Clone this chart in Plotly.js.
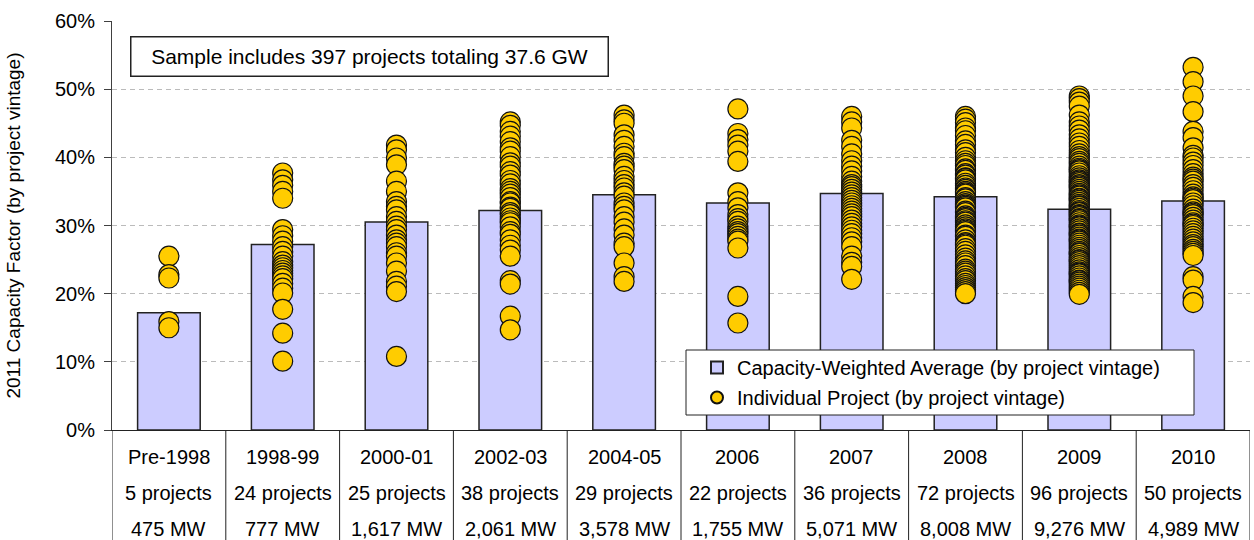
<!DOCTYPE html>
<html>
<head>
<meta charset="utf-8">
<script src="https://cdn.plot.ly/plotly-3.0.1.min.js"></script>
<style>html,body{margin:0;padding:0;background:#fff;}#chart{width:1254px;height:540px;}</style>
</head>
<body>
<div id="chart"></div>
<script>
const categories = ['Pre-1998','1998-99','2000-01','2002-03','2004-05','2006','2007','2008','2009','2010'];
const avgCF = [17.2, 27.2, 30.5, 32.2, 34.5, 33.3, 34.7, 34.2, 32.4, 33.6];
const projectCounts = ['5 projects','24 projects','25 projects','38 projects','29 projects','22 projects','36 projects','72 projects','96 projects','50 projects'];
const capacityLabels = ['475 MW','777 MW','1,617 MW','2,061 MW','3,578 MW','1,755 MW','5,071 MW','8,008 MW','9,276 MW','4,989 MW'];

const ptsPre1998 = [25.5, 22.8, 22.3, 15.9, 15.0];
const pts1998 = [37.7, 36.7, 35.9, 35.0, 34.0, 29.4, 28.5, 27.7, 26.9, 26.2, 25.5, 24.7, 24.2, 23.8, 23.4, 23.0, 22.6, 22.2, 21.5, 20.8, 20.1, 17.7, 14.2, 10.1];
const pts2000 = [41.8, 41.1, 39.9, 38.9, 36.5, 35.0, 33.5, 32.8, 32.3, 31.3, 30.6, 29.9, 29.4, 28.6, 27.9, 27.4, 26.9, 26.0, 25.5, 24.5, 23.3, 21.8, 21.1, 20.3, 10.8];
const pts2002 = [45.2, 44.7, 43.8, 43.1, 42.3, 41.4, 40.9, 40.1, 39.2, 38.7, 37.9, 37.4, 36.6, 36.1, 35.4, 35.0, 34.6, 34.1, 33.5, 33.3, 32.7, 32.5, 31.9, 31.6, 31.1, 30.7, 30.4, 29.8, 29.1, 28.7, 27.9, 27.1, 26.4, 25.5, 21.9, 21.4, 16.7, 14.7];
const pts2004 = [46.2, 45.5, 45.0, 43.3, 42.5, 41.6, 40.6, 40.1, 39.1, 38.7, 38.2, 37.2, 36.6, 36.0, 35.5, 34.8, 34.3, 33.3, 32.8, 32.3, 31.3, 30.5, 29.5, 28.6, 27.4, 26.9, 24.5, 22.5, 21.8];
const pts2006 = [47.1, 43.5, 42.6, 41.8, 40.9, 39.4, 34.8, 33.5, 32.6, 31.6, 31.0, 30.6, 29.9, 29.5, 29.1, 28.8, 28.4, 28.0, 27.7, 26.7, 19.6, 15.7];
const pts2007 = [46.0, 45.2, 44.3, 42.5, 41.6, 40.5, 39.5, 38.7, 38.0, 37.2, 36.5, 36.0, 35.7, 35.3, 34.9, 34.5, 34.1, 33.7, 33.3, 32.9, 32.5, 32.1, 31.7, 31.3, 30.8, 30.3, 29.8, 29.3, 28.8, 28.2, 27.6, 26.9, 25.5, 24.6, 24.0, 22.1];
const pts2008 = [46.0, 45.6, 45.1, 44.3, 43.9, 43.2, 42.4, 41.9, 41.1, 40.7, 40.0, 39.5,
  39.1, 38.8, 38.3, 38.1, 37.6, 37.4, 37.0, 36.9, 36.7, 36.2, 35.9, 35.5, 35.3, 35.0, 34.8, 34.6, 34.1, 33.9, 33.5, 33.2, 33.0,
  32.8, 32.6, 32.1, 31.9, 31.4, 31.2, 31.0, 30.7, 30.5, 30.1, 29.8, 29.5, 29.3, 29.1, 28.6, 28.4, 27.9, 27.5, 27.3, 27.1, 26.6,
  26.2, 25.7, 25.2, 24.8, 24.5, 24.1, 23.6, 23.3, 23.0, 22.6, 22.2, 21.9, 21.5, 21.2, 20.9, 20.6, 20.3, 20.0];
const pts2009 = [49.0, 48.6, 48.1, 47.5, 46.2, 45.2, 44.6, 44.0, 43.3, 42.7, 42.1, 41.6, 41.0, 40.5,
  40.1, 39.8, 39.4, 39.1, 38.7, 38.4, 38.2, 38.0, 37.7, 37.3, 37.0, 36.7, 36.5, 36.3, 36.0, 35.8, 35.6, 35.3, 35.0, 34.7, 34.5,
  34.3, 34.0, 33.9, 33.7, 33.4, 33.1, 32.9, 32.8, 32.5, 32.2, 32.0, 31.9, 31.6, 31.5, 31.3, 31.0, 30.9, 30.7, 30.4, 30.1, 29.9,
  29.8, 29.5, 29.2, 28.9, 28.8, 28.6, 28.3, 28.0, 27.9, 27.7, 27.4, 27.1, 26.8, 26.5, 26.2, 26.0, 25.9, 25.6, 25.3, 25.0, 24.9,
  24.7, 24.4, 24.1, 23.8, 23.5, 23.2, 23.0, 22.9, 22.6, 22.3, 22.0, 21.9, 21.7, 21.4, 21.1, 20.8, 20.5, 20.2, 19.9];
const pts2010 = [53.2, 51.1, 49.0, 46.7, 43.8, 42.9, 41.4,
  40.3, 39.9, 39.3, 38.8, 38.2, 37.6, 37.1, 36.8, 36.5, 36.0, 35.6, 35.1, 34.6, 34.2, 34.0, 33.8, 33.3, 32.9, 32.4, 32.0,
  31.8, 31.6, 31.2, 30.8, 30.4, 30.2, 30.0, 29.6, 29.2, 28.8, 28.4, 28.0, 27.6, 27.2, 26.9, 26.5, 26.2, 25.9, 25.6,
  22.5, 22.0, 19.6, 18.7];
const projectPoints = [ptsPre1998, pts1998, pts2000, pts2002, pts2004, pts2006, pts2007, pts2008, pts2009, pts2010];

const scatterX = [], scatterY = [];
projectPoints.forEach((arr, i) => arr.forEach(v => { scatterX.push(categories[i]); scatterY.push(v); }));

const FONT = 'Liberation Sans, Arial, sans-serif';
const FS = 20;
const M = {l: 112, r: 4, t: 21, b: 110};
const plotH = 540 - M.t - M.b;
const plotW = 1254 - M.l - M.r;
const py2paper = py => (540 - M.b - py) / plotH;
const px2paper = px => (px - M.l) / plotW;

const traces = [
  {
    type: 'bar', x: categories, y: avgCF, width: 0.55,
    name: 'Capacity-Weighted Average (by project vintage)',
    legendgroup: 'a',
    marker: {color: '#CCCCFF', line: {color: '#222222', width: 1.5}},
    hoverinfo: 'y'
  },
  {
    type: 'scatter', mode: 'markers', x: scatterX, y: scatterY,
    name: 'Individual Project (by project vintage)',
    legendgroup: 'b',
    marker: {color: '#FFCC00', size: 20, line: {color: '#111111', width: 1.2}},
    hoverinfo: 'y'
  }
];

const shapes = [];
for (let i = 0; i <= categories.length; i++) {
  shapes.push({type: 'line', xref: 'x', yref: 'paper', x0: i - 0.5, x1: i - 0.5, y0: 0, y1: -0.3,
    line: {color: '#222222', width: 1}});
}
// legend frame
shapes.push({type: 'rect', xref: 'paper', yref: 'paper', layer: 'above',
  x0: px2paper(686), x1: px2paper(1194), y0: py2paper(350), y1: py2paper(415),
  fillcolor: '#ffffff', line: {color: '#222222', width: 1}});

const annotations = [];
categories.forEach((c, i) => {
  [[c, 457], [projectCounts[i], 493.5], [capacityLabels[i], 529]].forEach(([t, py]) => {
    annotations.push({xref: 'x', yref: 'paper', x: i, y: py2paper(py), text: t, showarrow: false,
      xanchor: 'center', yanchor: 'middle', font: {family: FONT, size: FS, color: '#000'}});
  });
});
annotations.push({xref: 'paper', yref: 'paper', x: px2paper(369.5), y: py2paper(57),
  xanchor: 'center', yanchor: 'middle', showarrow: false,
  text: 'Sample includes 397 projects totaling 37.6 GW',
  width: 472, height: 34, borderpad: 2, borderwidth: 1.5, bordercolor: '#222222', bgcolor: '#ffffff',
  font: {family: FONT, size: 21, color: '#000'}});

const layout = {
  width: 1254, height: 540,
  margin: M,
  paper_bgcolor: '#ffffff', plot_bgcolor: '#ffffff',
  font: {family: FONT, size: FS, color: '#000'},
  bargap: 0.45,
  showlegend: true,
  legend: {
    x: px2paper(697), xanchor: 'left',
    y: py2paper(348), yanchor: 'top',
    bgcolor: 'rgba(0,0,0,0)', borderwidth: 0,
    traceorder: 'grouped', tracegroupgap: 1, itemsizing: 'constant',
    font: {family: FONT, size: FS, color: '#000'}
  },
  xaxis: {
    type: 'category', range: [-0.5, categories.length - 0.5],
    showticklabels: false, ticks: '', showgrid: false, zeroline: false,
    showline: true, linecolor: '#222222', linewidth: 1, fixedrange: true
  },
  yaxis: {
    range: [0, 60], dtick: 10, ticksuffix: '%',
    ticks: 'outside', ticklen: 7, tickcolor: '#404040', ticklabelstandoff: 5,
    showline: true, linecolor: '#404040', linewidth: 1,
    showgrid: true, gridcolor: '#BBBBBB', griddash: '5px,4px', gridwidth: 1,
    zeroline: false, fixedrange: true,
    tickfont: {family: FONT, size: FS, color: '#000'},
    title: {text: '2011 Capacity Factor (by project vintage)', standoff: 29,
      font: {family: FONT, size: 19, color: '#000'}}
  },
  shapes: shapes,
  annotations: annotations
};

Plotly.newPlot('chart', traces, layout, {displayModeBar: false, staticPlot: true});
</script>
</body>
</html>
